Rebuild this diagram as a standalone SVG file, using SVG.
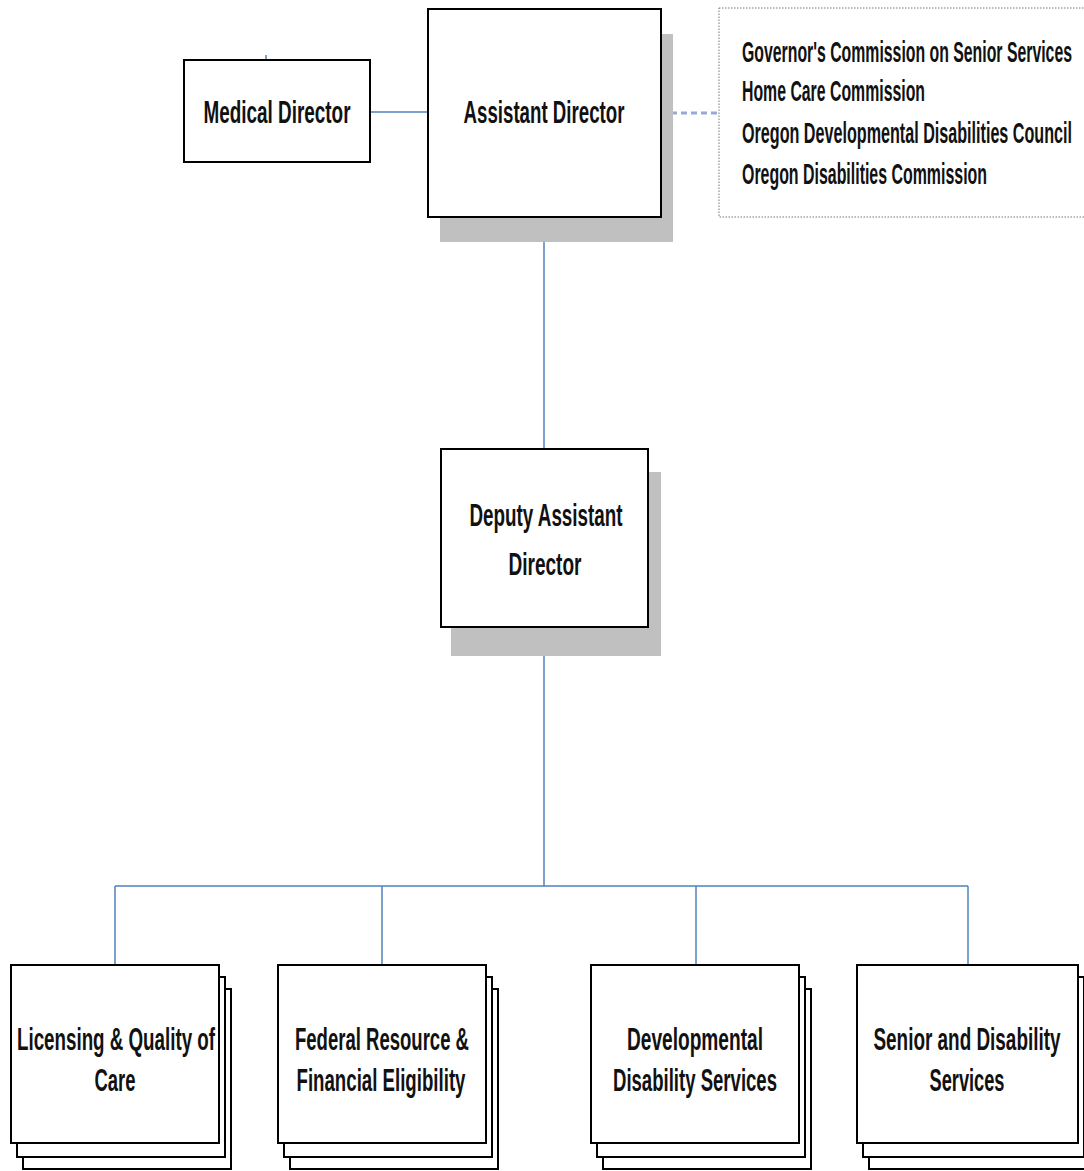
<svg xmlns="http://www.w3.org/2000/svg" width="1084" height="1171" viewBox="0 0 1084 1171">
<style>
.box{fill:#fff;stroke:#000;stroke-width:2}
.shadow{fill:#c0c0c0}
.t{font-family:"Liberation Sans Narrow","Liberation Sans",Arial,sans-serif;font-size:31px;font-weight:bold;fill:#111;text-anchor:middle}
.tl{font-family:"Liberation Sans Narrow","Liberation Sans",Arial,sans-serif;font-size:30px;font-weight:bold;fill:#111}
.conn{stroke:#4f81bd;stroke-width:1.5;fill:none}
</style>
<rect width="1084" height="1171" fill="#fff"/>
<g id="connectors">
<path class="conn" d="M266 55 V60 H278"/>
<line class="conn" x1="370" y1="112" x2="428" y2="112" stroke-width="2"/>
<line x1="661" y1="113" x2="719" y2="113" stroke="#95abd3" stroke-width="3" stroke-dasharray="6,4"/>
<line class="conn" x1="544" y1="217" x2="544" y2="449"/>
<line class="conn" x1="544" y1="627" x2="544" y2="886"/>
<line class="conn" x1="115" y1="886" x2="968" y2="886" stroke-width="2.5"/>
<line class="conn" x1="115" y1="886" x2="115" y2="965"/>
<line class="conn" x1="382" y1="886" x2="382" y2="965"/>
<line class="conn" x1="696" y1="886" x2="696" y2="965"/>
<line class="conn" x1="968" y1="886" x2="968" y2="965"/>
</g>
<g id="medical-director">
<rect class="box" x="184" y="60" width="186" height="102"/>
<text class="t" x="277" y="123" textLength="147" lengthAdjust="spacingAndGlyphs">Medical Director</text>
</g>
<g id="assistant-director">
<rect class="shadow" x="440" y="34" width="233" height="208"/>
<rect class="box" x="428" y="9" width="233" height="208"/>
<text class="t" x="544" y="123" textLength="161" lengthAdjust="spacingAndGlyphs">Assistant Director</text>
</g>
<g id="commissions">
<rect x="719" y="8" width="366" height="209" fill="#fff" stroke="#777" stroke-width="1" stroke-dasharray="1.5,1.5"/>
<text class="tl" x="742" y="62" textLength="330" lengthAdjust="spacingAndGlyphs">Governor's Commission on Senior Services</text>
<text class="tl" x="742" y="101" textLength="183" lengthAdjust="spacingAndGlyphs">Home Care Commission</text>
<text class="tl" x="742" y="143" textLength="330" lengthAdjust="spacingAndGlyphs">Oregon Developmental Disabilities Council</text>
<text class="tl" x="742" y="184" textLength="245" lengthAdjust="spacingAndGlyphs">Oregon Disabilities Commission</text>
</g>
<g id="deputy-assistant-director">
<rect class="shadow" x="451" y="472" width="210" height="184"/>
<rect class="box" x="441" y="449" width="207" height="178"/>
<text class="t" x="546" y="526" textLength="153" lengthAdjust="spacingAndGlyphs">Deputy Assistant</text>
<text class="t" x="545" y="575" textLength="73" lengthAdjust="spacingAndGlyphs">Director</text>
</g>
<g id="licensing-quality-of-care">
<rect class="box" x="23" y="989" width="208" height="180"/>
<rect class="box" x="17" y="977" width="208" height="180"/>
<rect class="box" x="11" y="965" width="208" height="178"/>
<text class="t" x="116" y="1050" textLength="198" lengthAdjust="spacingAndGlyphs">Licensing &amp; Quality of</text>
<text class="t" x="115" y="1091" textLength="41" lengthAdjust="spacingAndGlyphs">Care</text>
</g>
<g id="federal-resource-financial-eligibility">
<rect class="box" x="290" y="989" width="208" height="180"/>
<rect class="box" x="284" y="977" width="208" height="180"/>
<rect class="box" x="278" y="965" width="208" height="178"/>
<text class="t" x="382" y="1050" textLength="174" lengthAdjust="spacingAndGlyphs">Federal Resource &amp;</text>
<text class="t" x="381" y="1091" textLength="169" lengthAdjust="spacingAndGlyphs">Financial Eligibility</text>
</g>
<g id="developmental-disability-services">
<rect class="box" x="603" y="989" width="208" height="180"/>
<rect class="box" x="597" y="977" width="208" height="180"/>
<rect class="box" x="591" y="965" width="208" height="178"/>
<text class="t" x="695" y="1050" textLength="136" lengthAdjust="spacingAndGlyphs">Developmental</text>
<text class="t" x="695" y="1091" textLength="164" lengthAdjust="spacingAndGlyphs">Disability Services</text>
</g>
<g id="senior-and-disability-services">
<rect class="box" x="869" y="989" width="221" height="180"/>
<rect class="box" x="863" y="977" width="221" height="180"/>
<rect class="box" x="857" y="965" width="221" height="178"/>
<text class="t" x="967" y="1050" textLength="187" lengthAdjust="spacingAndGlyphs">Senior and Disability</text>
<text class="t" x="967" y="1091" textLength="75" lengthAdjust="spacingAndGlyphs">Services</text>
</g>
</svg>
